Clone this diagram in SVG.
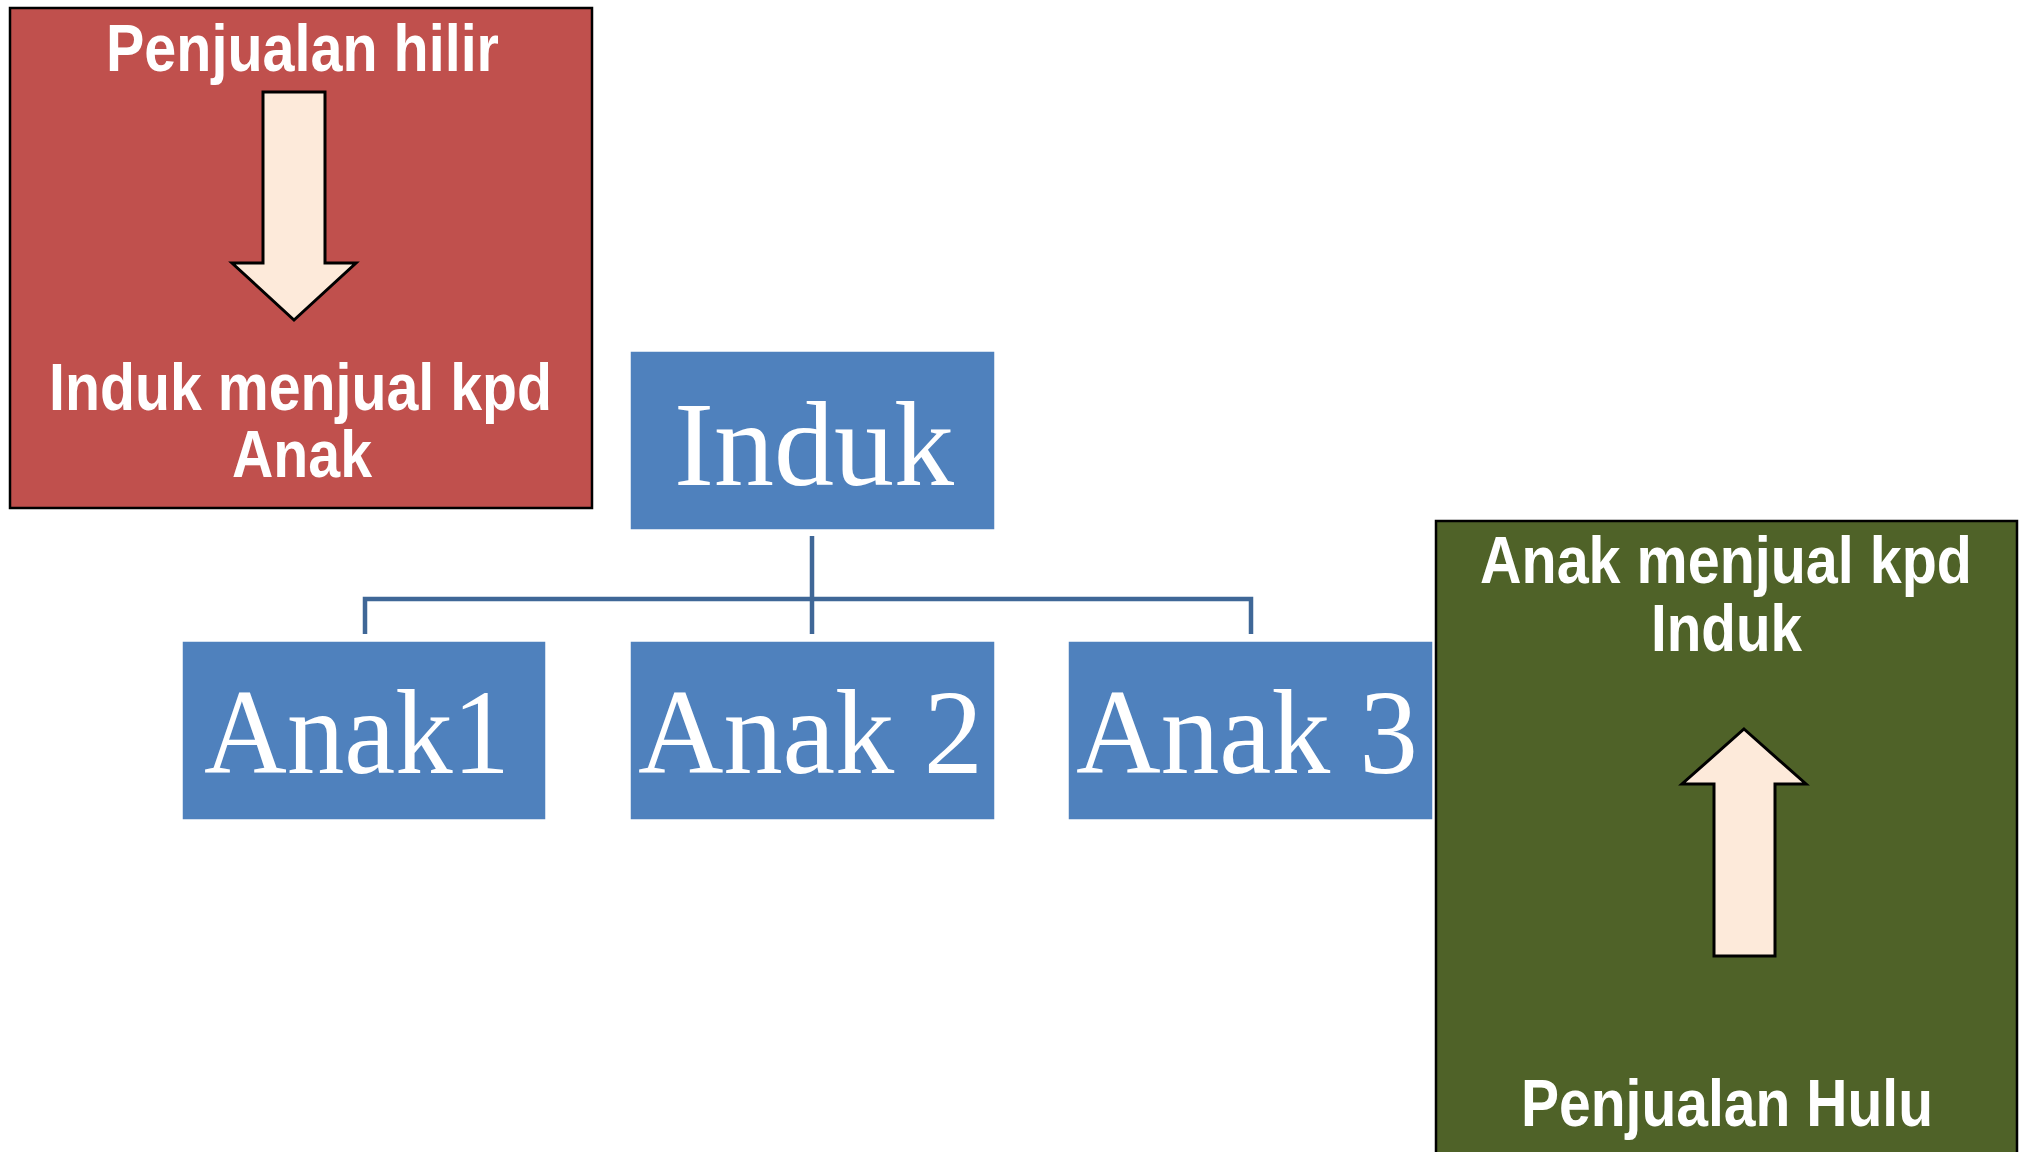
<svg xmlns="http://www.w3.org/2000/svg" width="2021" height="1152" viewBox="0 0 2021 1152">
<style>
.panel{stroke:#000;stroke-width:2.5}
.arrow{fill:#FDEADA;stroke:#000;stroke-width:3;stroke-linejoin:miter}
.lbl{font-family:"Liberation Sans Narrow","Liberation Sans",Arial,sans-serif;font-weight:bold;fill:#fff;font-size:66px}
.box{fill:#4F81BD;stroke:#fff;stroke-width:1.5}
.btxt{font-family:"Liberation Serif","Times New Roman",serif;fill:#fff;font-size:120px}
.conn{fill:none;stroke:#3F6797;stroke-width:4.5}
</style>
<rect width="2021" height="1152" fill="#fff"/>
<g id="hilir">
<rect class="panel" x="10" y="8" width="582" height="500" fill="#C0504D"/>
<text class="lbl" x="106" y="71" textLength="393" lengthAdjust="spacingAndGlyphs">Penjualan hilir</text>
<polygon class="arrow" points="263,92 325,92 325,263 356,263 294,320 232,263 263,263"/>
<text class="lbl" x="49" y="410" textLength="503" lengthAdjust="spacingAndGlyphs">Induk menjual kpd</text>
<text class="lbl" x="232" y="477" textLength="140" lengthAdjust="spacingAndGlyphs">Anak</text>
</g>
<g id="hulu">
<rect class="panel" x="1436" y="521" width="581" height="640" fill="#4F6228"/>
<text class="lbl" x="1480" y="583" textLength="492" lengthAdjust="spacingAndGlyphs">Anak menjual kpd</text>
<text class="lbl" x="1651" y="651" textLength="151" lengthAdjust="spacingAndGlyphs">Induk</text>
<polygon class="arrow" points="1744,729 1806,784 1775,784 1775,956 1714,956 1714,784 1682,784"/>
<text class="lbl" x="1521" y="1126" textLength="412" lengthAdjust="spacingAndGlyphs">Penjualan Hulu</text>
</g>
<g id="connectors">
<line class="conn" x1="812" y1="536" x2="812" y2="634"/>
<path class="conn" d="M365,634 V599 H1251 V634"/>
</g>
<g id="induk">
<rect class="box" x="630" y="351" width="365" height="179"/>
<text class="btxt" x="674" y="485" textLength="280" lengthAdjust="spacingAndGlyphs">Induk</text>
</g>
<g id="anak1">
<rect class="box" x="182" y="641" width="364" height="179"/>
<text class="btxt" x="204" y="773" textLength="306" lengthAdjust="spacingAndGlyphs">Anak1</text>
</g>
<g id="anak2">
<rect class="box" x="630" y="641" width="365" height="179"/>
<text class="btxt" x="638" y="773" textLength="345" lengthAdjust="spacingAndGlyphs">Anak 2</text>
</g>
<g id="anak3">
<rect class="box" x="1068" y="641" width="365" height="179"/>
<text class="btxt" x="1076" y="773" textLength="342" lengthAdjust="spacingAndGlyphs">Anak 3</text>
</g>
</svg>
